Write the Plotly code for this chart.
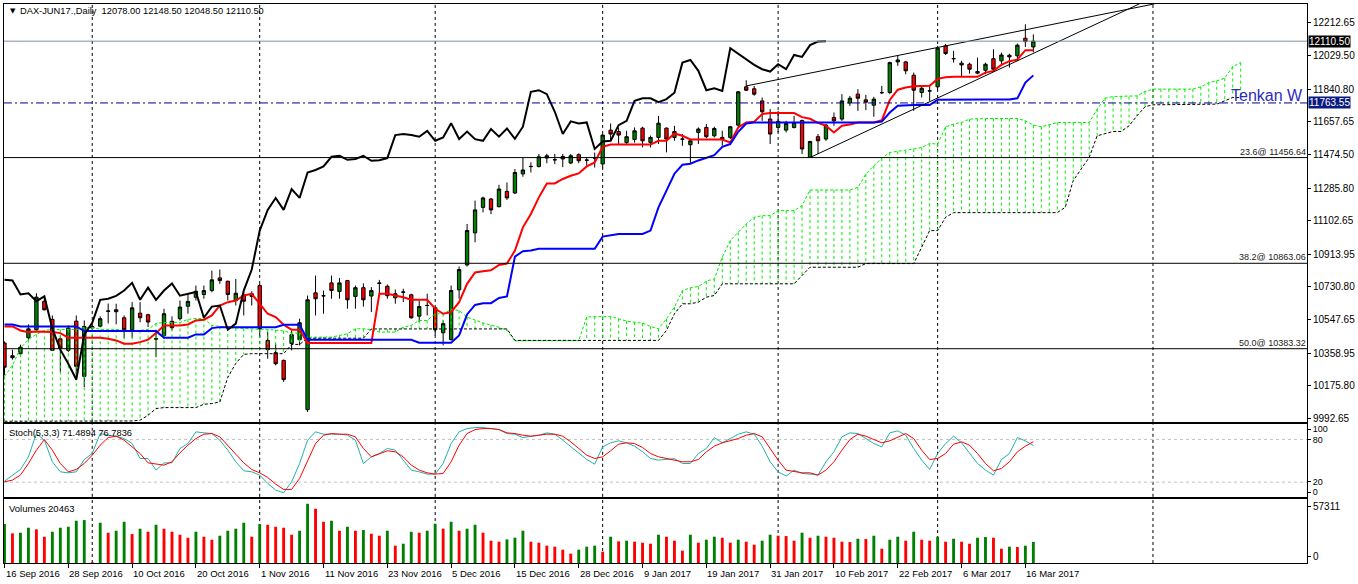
import plotly.graph_objects as go

# ---------------- data ----------------
date_label_bars = [0, 8, 16, 24, 32, 40, 48, 56, 64, 72, 80, 88, 96, 104, 112, 120, 128]
date_labels = ["16 Sep 2016", "28 Sep 2016", "10 Oct 2016", "20 Oct 2016", "1 Nov 2016",
               "11 Nov 2016", "23 Nov 2016", "5 Dec 2016", "15 Dec 2016", "28 Dec 2016",
               "9 Jan 2017", "19 Jan 2017", "31 Jan 2017", "10 Feb 2017", "22 Feb 2017",
               "6 Mar 2017", "16 Mar 2017"]
month_start_bars = [11, 32, 54, 75, 97, 117, 144]

opens = [10415, 10344, 10355, 10445, 10490, 10650, 10548, 10439, 10374, 10538,
         10228, 10500, 10510, 10593, 10602, 10557, 10490, 10583, 10574, 10437,
         10458, 10537, 10552, 10622, 10672, 10688, 10710, 10781, 10762, 10654,
         10686, 10692, 10738, 10430, 10361, 10318, 10412, 10434, 10041, 10697,
         10681, 10753, 10705, 10766, 10677, 10726, 10679, 10753, 10734, 10669,
         10700, 10686, 10566, 10627, 10613, 10473, 10434, 10714, 10854, 11034,
         11177, 11224, 11181, 11267, 11258, 11365, 11406, 11407, 11454, 11445,
         11463, 11426, 11473, 11443, 11455, 11421, 11611, 11603, 11541, 11558,
         11622, 11542, 11570, 11622, 11570, 11561, 11529, 11598, 11626, 11579,
         11570, 11570, 11639, 11854, 11843, 11775, 11673, 11626, 11611, 11626,
         11665, 11458, 11574, 11561, 11682, 11673, 11763, 11813, 11781, 11751,
         11822, 11822, 11994, 11994, 11919, 11822, 11832, 11854, 12084, 12013,
         11987, 11981, 11931, 11947, 12012, 12000, 12031, 12028, 12127, 12078.0]
highs = [10424, 10378, 10406, 10520, 10695, 10664, 10570, 10458, 10514, 10570,
         10542, 10515, 10565, 10637, 10636, 10570, 10645, 10645, 10580, 10486,
         10608, 10565, 10654, 10692, 10738, 10738, 10822, 10828, 10766, 10775,
         10701, 10706, 10748, 10477, 10411, 10322, 10486, 10552, 10682, 10794,
         10710, 10794, 10780, 10770, 10738, 10750, 10729, 10770, 10744, 10716,
         10720, 10692, 10654, 10692, 10617, 10542, 10738, 10845, 11084, 11215,
         11237, 11230, 11304, 11317, 11392, 11454, 11430, 11477, 11478, 11477,
         11477, 11477, 11480, 11458, 11485, 11589, 11648, 11626, 11607, 11626,
         11630, 11580, 11691, 11626, 11635, 11589, 11561, 11626, 11645, 11630,
         11607, 11635, 11831, 11891, 11859, 11794, 11729, 11719, 11663, 11691,
         11670, 11551, 11589, 11645, 11710, 11813, 11803, 11841, 11809, 11798,
         11859, 11995, 12028, 12000, 11934, 11859, 11865, 12084, 12095, 12056,
         12000, 11990, 12018, 11990, 12065, 12046, 12040, 12097, 12205, 12148.5]
lows = [10234, 10322, 10350, 10434, 10486, 10598, 10370, 10252, 10364, 10210,
        10168, 10495, 10503, 10525, 10520, 10443, 10445, 10532, 10505, 10336,
        10440, 10486, 10542, 10580, 10654, 10664, 10700, 10748, 10654, 10626,
        10570, 10626, 10449, 10327, 10290, 10197, 10374, 10402, 10028, 10570,
        10580, 10664, 10664, 10608, 10608, 10620, 10589, 10692, 10664, 10636,
        10645, 10552, 10533, 10570, 10458, 10402, 10430, 10664, 10845, 10981,
        11149, 11139, 11177, 11219, 11252, 11349, 11373, 11401, 11425, 11420,
        11403, 11420, 11425, 11411, 11401, 11400, 11551, 11529, 11528, 11541,
        11514, 11514, 11533, 11486, 11551, 11523, 11420, 11533, 11566, 11570,
        11523, 11561, 11630, 11831, 11804, 11663, 11533, 11598, 11598, 11620,
        11477, 11456, 11477, 11551, 11635, 11663, 11747, 11719, 11723, 11686,
        11813, 11813, 11972, 11925, 11719, 11794, 11775, 11841, 12033, 11990,
        11910, 11928, 11925, 11925, 11940, 11981, 11962, 12000, 12078, 12048.5]
closes = [10279, 10333, 10392, 10495, 10673, 10602, 10374, 10387, 10499, 10284,
          10508, 10508, 10552, 10595, 10591, 10490, 10613, 10557, 10533, 10440,
          10580, 10501, 10617, 10649, 10706, 10710, 10770, 10766, 10688, 10695,
          10650, 10677, 10496, 10378, 10299, 10210, 10462, 10529, 10658, 10664,
          10680, 10710, 10753, 10658, 10726, 10658, 10710, 10750, 10681, 10692,
          10702, 10557, 10620, 10626, 10490, 10524, 10710, 10828, 11047, 11163,
          11230, 11163, 11280, 11230, 11373, 11387, 11407, 11461, 11467, 11444,
          11449, 11467, 11439, 11442, 11454, 11583, 11589, 11583, 11574, 11607,
          11551, 11570, 11650, 11561, 11603, 11560, 11551, 11617, 11574, 11620,
          11562, 11630, 11826, 11835, 11813, 11714, 11589, 11660, 11648, 11654,
          11505, 11547, 11551, 11639, 11663, 11775, 11790, 11790, 11768, 11785,
          11821, 11990, 12005, 11944, 11835, 11846, 11831, 12071, 12041, 12012,
          11977, 11953, 11940, 11981, 11953, 12033, 12022, 12088, 12108, 12110.5]

tenkan = [10508.4, 10508.4, 10486.0, 10476.5, 10480.4, 10480.4, 10476.5, 10470.9, 10445.1, 10445.1,
          10445.1, 10445.1, 10445.1, 10439.5, 10429.9, 10411.4, 10411.4, 10420.4, 10433.9, 10470.9,
          10514.1, 10514.1, 10514.1, 10519.7, 10542.1, 10546.0, 10570.1, 10626.2, 10644.7, 10654.2,
          10682.2, 10691.8, 10637.4, 10579.6, 10560.6, 10518.0, 10490.0, 10490.0, 10415.9, 10415.9,
          10415.9, 10415.9, 10415.9, 10415.9, 10415.9, 10415.9, 10415.9, 10691.8, 10691.8, 10682.2,
          10672.7, 10658.1, 10658.1, 10658.1, 10607.7, 10579.6, 10588.6, 10644.7, 10747.8, 10811.2,
          10818.5, 10824.1, 10853.3, 10861.6, 10934.5, 11065.1, 11140.2, 11233.3, 11311.8, 11311.8,
          11336.5, 11354.9, 11367.9, 11407.1, 11429.5, 11517.5, 11530.0, 11530.0, 11530.0, 11530.0,
          11530.0, 11530.0, 11551.2, 11551.2, 11592.1, 11579.2, 11558.5, 11558.5, 11558.5, 11558.5,
          11558.5, 11541.6, 11625.7, 11653.7, 11657.7, 11700.8, 11707.0, 11707.0, 11707.0, 11707.0,
          11684.0, 11674.5, 11652.0, 11635.3, 11597.7, 11635.3, 11642.5, 11653.7, 11653.7, 11653.7,
          11666.0, 11780.0, 11838.0, 11850.0, 11856.7, 11859.5, 11859.5, 11898.7, 11908.0, 11910.0,
          11910.0, 11910.0, 11910.0, 11934.0, 11943.6, 11977.2, 11998.0, 12006.4, 12059.6, 12059.6]
kijun = [10519.7, 10519.7, 10508.4, 10508.4, 10508.4, 10508.4, 10508.4, 10508.4, 10508.4, 10508.4,
         10482.1, 10482.1, 10482.1, 10482.1, 10482.1, 10482.1, 10482.1, 10482.1, 10482.1, 10482.1,
         10445.1, 10445.1, 10445.1, 10445.1, 10463.6, 10463.6, 10499.0, 10504.5, 10504.5, 10504.5,
         10504.5, 10504.5, 10504.5, 10504.5, 10504.5, 10518.0, 10518.0, 10518.0, 10433.9, 10433.9,
         10433.9, 10433.9, 10433.9, 10433.9, 10433.9, 10433.9, 10433.9, 10433.9, 10433.9, 10433.9,
         10433.9, 10433.9, 10417.1, 10417.1, 10417.1, 10417.1, 10417.1, 10458.0, 10575.7, 10629.0,
         10639.1, 10639.1, 10668.2, 10676.6, 10900.9, 10930.6, 10934.5, 10944.0, 10944.0, 10944.0,
         10944.0, 10944.0, 10944.0, 10944.0, 10944.0, 11013.0, 11022.5, 11028.1, 11028.1, 11028.1,
         11028.1, 11046.6, 11177.3, 11270.9, 11366.2, 11416.6, 11422.2, 11440.7, 11455.9, 11469.9,
         11517.5, 11532.7, 11601.6, 11648.1, 11653.7, 11653.7, 11653.7, 11653.7, 11653.7, 11653.7,
         11653.7, 11653.7, 11653.7, 11653.7, 11653.7, 11653.7, 11653.7, 11653.7, 11653.7, 11653.7,
         11658.8, 11709.8, 11747.4, 11751.3, 11751.3, 11751.3, 11751.3, 11782.0, 11782.7, 11782.7,
         11782.7, 11782.7, 11782.7, 11782.7, 11782.7, 11782.7, 11782.7, 11789.4, 11878.0, 11918.4]
senkou_a = [10228.1, 10289.8, 10385.1, 10435.5, 10463.6, 10486.0, 10491.7, 10491.7, 10491.7, 10491.7,
            10502.8, 10502.8, 10491.7, 10491.7, 10491.7, 10486.0, 10486.0, 10486.0, 10491.7, 10525.2,
            10530.9, 10530.9, 10530.9, 10547.7, 10553.3, 10553.3, 10514.1, 10508.4, 10500.0, 10500.0,
            10497.2, 10491.7, 10491.7, 10491.7, 10488.8, 10483.2, 10470.9, 10470.9, 10448.4, 10448.4,
            10448.4, 10448.4, 10458.0, 10467.4, 10495.5, 10495.5, 10490.0, 10476.5, 10476.5, 10476.5,
            10504.5, 10514.1, 10542.1, 10542.1, 10579.6, 10579.6, 10603.7, 10598.1, 10560.6, 10542.1,
            10528.0, 10515.7, 10504.5, 10486.0, 10427.1, 10428.3, 10428.3, 10428.3, 10428.3, 10428.3,
            10428.3, 10428.3, 10428.3, 10561.7, 10564.5, 10564.5, 10564.5, 10551.6, 10538.2, 10532.5,
            10526.9, 10508.4, 10495.5, 10551.6, 10616.6, 10710.3, 10725.4, 10732.7, 10762.4, 10775.8,
            10897.0, 10990.6, 11037.1, 11084.2, 11121.2, 11130.7, 11130.7, 11158.7, 11158.7, 11158.7,
            11186.8, 11274.8, 11274.8, 11274.8, 11274.8, 11274.8, 11274.8, 11289.4, 11364.5, 11411.0,
            11453.1, 11485.6, 11491.2, 11495.1, 11504.6, 11513.6, 11536.0, 11532.7, 11629.6, 11644.8,
            11653.7, 11672.8, 11676.2, 11676.2, 11676.2, 11676.2, 11676.2, 11676.2, 11663.3, 11639.2,
            11629.6, 11640.9, 11653.7, 11653.7, 11653.7, 11653.7, 11653.7, 11728.9, 11790.5, 11799.5,
            11799.5, 11799.5, 11803.4, 11827.5, 11841.0, 11841.0, 11841.0, 11841.0, 11841.0, 11841.0,
            11853.9, 11878.0, 11887.5, 11902.6, 11967.7, 11990.1]
senkou_b = [9975.9, 9975.9, 9977.6, 9977.6, 9977.6, 9977.6, 9977.6, 9977.6, 9977.6, 9977.6,
            9977.6, 9977.6, 9977.6, 9977.6, 9977.6, 9977.6, 9977.6, 9981.5, 10009.5, 10047.1,
            10052.7, 10052.7, 10052.7, 10052.7, 10052.7, 10071.2, 10075.1, 10084.1, 10222.5, 10301.0,
            10351.5, 10355.4, 10355.4, 10355.4, 10355.4, 10355.4, 10407.5, 10407.5, 10442.3, 10442.3,
            10442.3, 10442.3, 10442.3, 10442.3, 10442.3, 10442.3, 10494.4, 10494.4, 10494.4, 10494.4,
            10494.4, 10494.4, 10494.4, 10494.4, 10494.4, 10494.4, 10494.4, 10494.4, 10494.4, 10494.4,
            10494.4, 10494.4, 10494.4, 10494.4, 10429.9, 10429.9, 10429.9, 10429.9, 10429.9, 10429.9,
            10429.9, 10429.9, 10429.9, 10429.9, 10429.9, 10429.9, 10429.9, 10429.9, 10429.9, 10429.9,
            10429.9, 10429.9, 10429.9, 10486.0, 10579.6, 10635.7, 10635.7, 10644.7, 10672.7, 10682.2,
            10747.8, 10747.8, 10747.8, 10747.8, 10747.8, 10747.8, 10747.8, 10747.8, 10747.8, 10747.8,
            10794.4, 10840.9, 10840.9, 10840.9, 10840.9, 10840.9, 10840.9, 10840.9, 10861.6, 10861.6,
            10861.6, 10861.6, 10861.6, 10861.6, 10861.6, 10953.0, 11046.6, 11046.6, 11121.2, 11147.5,
            11147.5, 11147.5, 11147.5, 11147.5, 11147.5, 11147.5, 11147.5, 11147.5, 11147.5, 11147.5,
            11147.5, 11147.5, 11147.5, 11177.3, 11326.9, 11392.5, 11457.6, 11579.2, 11592.1, 11603.3,
            11603.3, 11635.3, 11691.3, 11741.8, 11753.0, 11753.0, 11753.0, 11753.0, 11753.0, 11753.0,
            11753.0, 11753.0, 11756.9, 11775.4, 11793.9, 11793.9]

stoch_k = [21.5, 29.9, 37.8, 55.5, 88.2, 78.9, 48.6, 34.5, 33.1, 34.5,
           51.8, 60.2, 88.2, 85.9, 84.5, 81.2, 74.2, 53.2, 53.2, 36.9,
           47.1, 47.1, 67.2, 74.2, 90.6, 89.2, 88.2, 78.9, 64.9, 48.6,
           36.0, 34.5, 29.9, 18.2, 8.9, 5.1, 20.5, 46.2, 78.9, 90.6,
           87.3, 87.3, 87.3, 85.9, 78.9, 46.2, 55.5, 60.2, 67.2, 64.9,
           50.9, 36.9, 34.5, 31.3, 31.3, 46.2, 74.2, 90.6, 95.2, 96.6,
           96.6, 95.2, 93.8, 88.2, 87.3, 82.6, 84.5, 85.9, 89.2, 87.3,
           78.9, 69.6, 60.2, 51.8, 45.3, 69.6, 75.2, 78.0, 75.2, 70.5,
           62.6, 53.2, 50.9, 51.8, 53.0, 46.2, 46.2, 60.2, 67.2, 82.6,
           75.2, 81.2, 87.3, 90.6, 87.3, 70.5, 48.6, 34.5, 28.5, 36.9,
           32.2, 31.3, 29.9, 48.6, 62.6, 83.6, 89.2, 88.2, 81.2, 74.2,
           69.6, 89.2, 92.0, 85.9, 67.2, 50.9, 37.8, 60.2, 74.2, 84.5,
           75.2, 60.2, 46.2, 36.9, 29.9, 51.8, 60.2, 82.6, 78.0, 71.4894]
stoch_d = [20.5, 22.9, 29.9, 46.2, 64.9, 79.8, 64.9, 46.2, 34.5, 37.8,
           46.2, 57.9, 71.9, 82.6, 84.5, 78.9, 69.6, 60.2, 47.1, 45.3,
           43.9, 48.6, 61.2, 71.9, 81.2, 87.3, 88.2, 83.6, 71.9, 60.2,
           47.1, 37.8, 33.1, 26.6, 17.3, 9.8, 9.8, 25.2, 50.9, 74.2,
           85.9, 88.2, 87.3, 87.3, 83.6, 67.2, 55.5, 60.2, 64.0, 62.6,
           55.5, 43.9, 36.9, 33.1, 31.3, 32.2, 48.6, 71.9, 88.2, 93.8,
           95.2, 95.2, 93.8, 89.2, 88.2, 85.9, 84.5, 85.9, 87.3, 87.3,
           84.5, 76.6, 67.2, 57.9, 53.2, 55.5, 64.0, 73.3, 75.2, 74.2,
           68.6, 60.2, 55.5, 53.2, 51.8, 48.6, 48.6, 51.8, 62.6, 70.5,
           75.2, 78.0, 81.2, 85.9, 88.2, 83.6, 67.2, 50.9, 36.9, 34.5,
           33.1, 33.1, 29.9, 36.9, 48.6, 64.9, 79.8, 87.3, 84.5, 79.8,
           75.2, 78.0, 83.6, 88.2, 81.2, 64.9, 51.8, 53.2, 60.2, 73.3,
           76.6, 71.9, 60.2, 46.2, 36.0, 39.2, 48.6, 62.6, 70.5, 76.7836]

volumes = [37674, 28658, 29302, 34132, 32522, 25438, 30268, 34132, 35098, 40894,
           41538, 644, 38962, 29302, 31234, 39928, 28014, 33166, 30268, 37030,
           33166, 30268, 27370, 24472, 30268, 25438, 22540, 26404, 31234, 33166,
           38962, 25438, 37674, 37030, 35098, 34132, 27370, 31234, 57311, 52486,
           39928, 40894, 31234, 35098, 31234, 31878, 28336, 26404, 31234, 16744,
           18676, 30268, 29302, 31234, 37996, 33166, 39928, 31234, 33166, 37030,
           29302, 21574, 20608, 22862, 24472, 31234, 20608, 19642, 16744, 15778,
           12880, 9016, 12880, 15778, 16744, 10948, 25438, 20930, 21574, 20608,
           19642, 18676, 27370, 25438, 21574, 11914, 27370, 19642, 22540, 25438,
           24472, 19642, 22540, 20608, 17710, 21574, 27370, 26404, 26082, 21574,
           29302, 24472, 26404, 25438, 24472, 20608, 20286, 23506, 23184, 26404,
           13846, 22540, 25438, 21574, 30268, 22540, 21574, 25438, 20608, 23506,
           20608, 18676, 24472, 25116, 24472, 13846, 15778, 15456, 16744, 20463]

price_ticks = [12212.65, 12029.50, 11840.80, 11657.65, 11474.50, 11285.80, 11102.65,
               10913.95, 10730.80, 10547.65, 10358.95, 10175.80, 9992.65]
fib_levels = [11456.64, 10863.06, 10383.32]
fib_names = ["23.6", "38.2", "50.0"]
last_price = 12110.50
tenkan_weekly = 11763.55
upper_trend_x = [93, 144.2]
upper_trend_y = [11859, 12320]
lower_trend_x = [101, 142.3]
lower_trend_y = [11457, 12320]

# ---------------- geometry helpers ----------------
W, H = 1358, 584
PL, PR, PT, PB = 3, 1310, 3, 563


def pxx(px):
    return (px - PL) / (PR - PL)


def pxy(py):
    return (PB - py) / (PB - PT)


MAIN_DOM = [pxy(421.7), 1.0]
STO_DOM = [pxy(496.7), pxy(424.0)]
VOL_DOM = [0.0, pxy(499.0)]
XR = [-0.0625, -0.0625 + (PR - PL) / 8.0]
MAIN_YR = [9972.0, 12319.2]
STO_YR = [-0.56, 101.26]
VOL_YR = [0, 61824]

FONT = "Liberation Sans"
bars = list(range(len(closes)))
cloud_bars = list(range(len(senkou_a)))

fig = go.Figure()

# cloud hatching
hx, hy = [], []
for i, a, b in zip(cloud_bars, senkou_a, senkou_b):
    hx += [i, i, None]
    hy += [a, b, None]
fig.add_trace(go.Scatter(x=hx, y=hy, mode="lines", xaxis="x", yaxis="y",
                         line=dict(color="#00EE00", width=1, dash="3px,3px"), hoverinfo="skip"))
fig.add_trace(go.Scatter(x=cloud_bars, y=senkou_a, mode="lines", xaxis="x", yaxis="y",
                         line=dict(color="#00EE00", width=1, dash="3px,2px"), hoverinfo="skip"))
fig.add_trace(go.Scatter(x=cloud_bars, y=senkou_b, mode="lines", xaxis="x", yaxis="y",
                         line=dict(color="black", width=1, dash="3px,2px"), hoverinfo="skip"))

fig.add_trace(go.Candlestick(x=bars, open=opens, high=highs, low=lows, close=closes,
                             xaxis="x", yaxis="y", whiskerwidth=0,
                             increasing=dict(fillcolor="#008000", line=dict(color="black", width=1)),
                             decreasing=dict(fillcolor="#FF0000", line=dict(color="black", width=1)),
                             hoverinfo="skip"))

fig.add_trace(go.Scatter(x=bars, y=tenkan, mode="lines", xaxis="x", yaxis="y",
                         line=dict(color="#FF0000", width=2), hoverinfo="skip"))
fig.add_trace(go.Scatter(x=bars, y=kijun, mode="lines", xaxis="x", yaxis="y",
                         line=dict(color="#0000FF", width=2), hoverinfo="skip"))
chikou = closes[26:]
fig.add_trace(go.Scatter(x=bars[:len(chikou)], y=chikou, mode="lines", xaxis="x", yaxis="y",
                         line=dict(color="black", width=2), hoverinfo="skip"))
fig.add_trace(go.Scatter(x=upper_trend_x, y=upper_trend_y, mode="lines", xaxis="x", yaxis="y",
                         line=dict(color="black", width=1), hoverinfo="skip"))
fig.add_trace(go.Scatter(x=lower_trend_x, y=lower_trend_y, mode="lines", xaxis="x", yaxis="y",
                         line=dict(color="black", width=1), hoverinfo="skip"))

# stochastic
fig.add_trace(go.Scatter(x=bars, y=stoch_k, mode="lines", xaxis="x2", yaxis="y2",
                         line=dict(color="#20B2AA", width=1), hoverinfo="skip"))
fig.add_trace(go.Scatter(x=bars, y=stoch_d, mode="lines", xaxis="x2", yaxis="y2",
                         line=dict(color="#FF0000", width=1), hoverinfo="skip"))

# volumes
vol_colors = ["#008000"] + ["#008000" if volumes[i] > volumes[i - 1] else "#FF0000"
                            for i in range(1, len(volumes))]
fig.add_trace(go.Bar(x=bars, y=volumes, marker=dict(color=vol_colors, line=dict(width=0)),
                     width=0.36, xaxis="x3", yaxis="y3", hoverinfo="skip"))

# ---------------- shapes ----------------
shapes = []
for b in month_start_bars:
    for xr, yr in [("x", "y domain"), ("x2", "y2 domain"), ("x3", "y3 domain")]:
        shapes.append(dict(type="line", xref=xr, yref=yr, x0=b, x1=b, y0=0, y1=1,
                           line=dict(color="black", width=1, dash="3px,3px"), layer="below"))
for lv in fib_levels:
    shapes.append(dict(type="line", xref="x domain", yref="y", x0=0, x1=1, y0=lv, y1=lv,
                       line=dict(color="black", width=1)))
shapes.append(dict(type="line", xref="x domain", yref="y", x0=0, x1=1, y0=last_price, y1=last_price,
                   line=dict(color="#7F8FA0", width=1)))
shapes.append(dict(type="line", xref="x domain", yref="y", x0=0, x1=1, y0=tenkan_weekly, y1=tenkan_weekly,
                   line=dict(color="#00008B", width=1, dash="8px,3px,2px,3px")))
for lv in [20, 80]:
    shapes.append(dict(type="line", xref="x2 domain", yref="y2", x0=0, x1=1, y0=lv, y1=lv,
                       line=dict(color="#C0C0C0", width=1, dash="3px,3px"), layer="below"))

# ---------------- annotations ----------------
ann = []
for b, t in zip(date_label_bars, date_labels):
    ann.append(dict(x=b, xref="x3", y=0, yref="paper", text=t, showarrow=False,
                    xanchor="left", yanchor="top", yshift=-3, xshift=-1,
                    font=dict(family=FONT, size=9.5, color="black")))
ann.append(dict(x=pxx(7), y=pxy(10.5), xref="paper", yref="paper", text="▼", showarrow=False,
                xanchor="left", yanchor="middle", font=dict(family="DejaVu Sans", size=7, color="black")))
ann.append(dict(x=pxx(17), y=pxy(10.5), xref="paper", yref="paper",
                text="DAX-JUN17.,Daily  %.2f %.2f %.2f %.2f" % (opens[-1], highs[-1], lows[-1], closes[-1]),
                showarrow=False, xanchor="left", yanchor="middle",
                font=dict(family=FONT, size=9.3, color="black")))
ann.append(dict(x=pxx(6), y=pxy(432.5), xref="paper", yref="paper",
                text="Stoch(5,3,3) %.4f %.4f" % (stoch_k[-1], stoch_d[-1]), showarrow=False,
                xanchor="left", yanchor="middle", font=dict(family=FONT, size=9.3, color="black")))
ann.append(dict(x=pxx(6), y=pxy(508.5), xref="paper", yref="paper",
                text="Volumes %d" % volumes[-1], showarrow=False,
                xanchor="left", yanchor="middle", font=dict(family=FONT, size=9.5, color="black")))
for lv, nm in zip(fib_levels, fib_names):
    ann.append(dict(x=pxx(1311), xref="paper", y=lv, yref="y", text="%s@ %.2f" % (nm, lv),
                    showarrow=False, xanchor="right", yanchor="bottom", yshift=-1,
                    font=dict(family=FONT, size=9, color="#222222")))
ann.append(dict(x=pxx(1232), xref="paper", y=tenkan_weekly, yref="y", text="Tenkan W",
                showarrow=False, xanchor="left", yanchor="bottom", yshift=-3,
                font=dict(family=FONT, size=16, color="#2B2BC0")))
ann.append(dict(x=1, xref="paper", y=last_price, yref="y", text="%.2f" % last_price, showarrow=False,
                xanchor="left", yanchor="middle", xshift=1, bgcolor="black", borderpad=0,
                font=dict(family=FONT, size=10, color="white")))
ann.append(dict(x=1, xref="paper", y=tenkan_weekly, yref="y", text="%.2f" % tenkan_weekly, showarrow=False,
                xanchor="left", yanchor="middle", xshift=1, bgcolor="#0A1A80", borderpad=0,
                font=dict(family=FONT, size=10, color="white")))

axis_x = dict(range=XR, showgrid=False, zeroline=False, showline=True, linecolor="black",
              linewidth=1, mirror=True, fixedrange=True)
axis_y = dict(side="right", showgrid=False, zeroline=False, showline=True, linecolor="black",
              linewidth=1, mirror=True, ticks="outside", ticklen=3, tickcolor="black",
              tickfont=dict(family=FONT, size=10, color="black"), fixedrange=True)
axis_y_small = dict(axis_y)
axis_y_small["tickfont"] = dict(family=FONT, size=9, color="black")

fig.update_layout(
    width=W, height=H,
    margin=dict(l=PL, r=W - PR, t=PT, b=H - PB),
    paper_bgcolor="white", plot_bgcolor="white",
    showlegend=False, hovermode=False, boxgap=0.4,
    font=dict(family=FONT, size=10, color="black"),
    xaxis=dict(**axis_x, anchor="y", showticklabels=False, rangeslider=dict(visible=False)),
    xaxis2=dict(**axis_x, anchor="y2", showticklabels=False),
    xaxis3=dict(**axis_x, anchor="y3", tickvals=date_label_bars, ticktext=[""] * len(date_label_bars),
                ticks="outside", ticklen=4, tickcolor="black"),
    yaxis=dict(**axis_y, domain=MAIN_DOM, range=MAIN_YR, anchor="x",
               tickvals=price_ticks, ticktext=["%.2f" % v for v in price_ticks]),
    yaxis2=dict(**axis_y_small, domain=STO_DOM, range=STO_YR, anchor="x2",
                tickvals=[94.2, 80, 20.4, 6.0], ticktext=["100", "80", "20", "0"]),
    yaxis3=dict(**axis_y, domain=VOL_DOM, range=VOL_YR, anchor="x3",
                tickvals=[54386, 6762], ticktext=["57311", "0"]),
    shapes=shapes, annotations=ann,
)

fig.write_html("out.html", config={"displayModeBar": False},
               post_script="document.body.style.margin='0';document.body.style.overflow='hidden';")
